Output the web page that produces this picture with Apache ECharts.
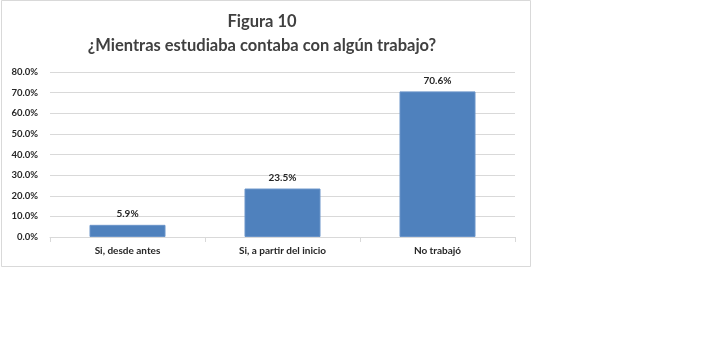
<!DOCTYPE html>
<html><head><meta charset="utf-8">
<script src="https://cdn.jsdelivr.net/npm/echarts@6/dist/echarts.min.js"></script>
<style>html,body{margin:0;padding:0;background:#fff}#c{width:702px;height:348px}</style>
</head><body><div id="c"></div>
<script>
const categories = ['Si, desde antes', 'Si, a partir del inicio', 'No trabajó'];
const values = [5.9, 23.5, 70.6];
const titleLines = ['Figura 10', '¿Mientras estudiaba contaba con algún trabajo?'];

const chart = echarts.init(document.getElementById('c'));
chart.setOption({
  animation: false,
  backgroundColor: '#fff',
  graphic: [{
    type: 'rect', shape: {x: 1.5, y: 0.5, width: 529, height: 266},
    style: {fill: 'none', stroke: '#d9d9d9', lineWidth: 1}, silent: true
  }],
  title: {
    text: titleLines.join('\n'),
    left: 257, top: 5, textAlign: 'center',
    textStyle: {fontFamily: 'Lato', fontSize: 16.5, fontWeight: 'bold', color: '#404040', lineHeight: 24}
  },
  grid: {left: 50, right: 187, top: 72, bottom: 111, containLabel: false},
  xAxis: {
    type: 'category', data: categories,
    axisLine: {lineStyle: {color: '#d9d9d9'}},
    axisTick: {show: true, alignWithLabel: false, length: 5, lineStyle: {color: '#d9d9d9'}},
    axisLabel: {fontFamily: 'Lato', fontSize: 10, color: '#262626', margin: 9, fontWeight: 'bold'}
  },
  yAxis: {
    type: 'value', min: 0, max: 80, interval: 10,
    axisLine: {show: false}, axisTick: {show: false},
    splitLine: {lineStyle: {color: '#d9d9d9'}},
    axisLabel: {fontFamily: 'Lato', fontSize: 9.5, color: '#262626', margin: 12, fontWeight: 'bold',
      formatter: v => v.toFixed(1) + '%'}
  },
  series: [{
    type: 'bar', data: values, barWidth: 76,
    itemStyle: {color: '#4f81bd', borderColor: '#6a94c9', borderWidth: 1},
    label: {show: true, position: 'top', distance: 6, fontFamily: 'Lato', fontSize: 10, fontWeight: 'bold', color: '#262626',
      formatter: p => p.value.toFixed(1) + '%'}
  }]
});
</script></body></html>
